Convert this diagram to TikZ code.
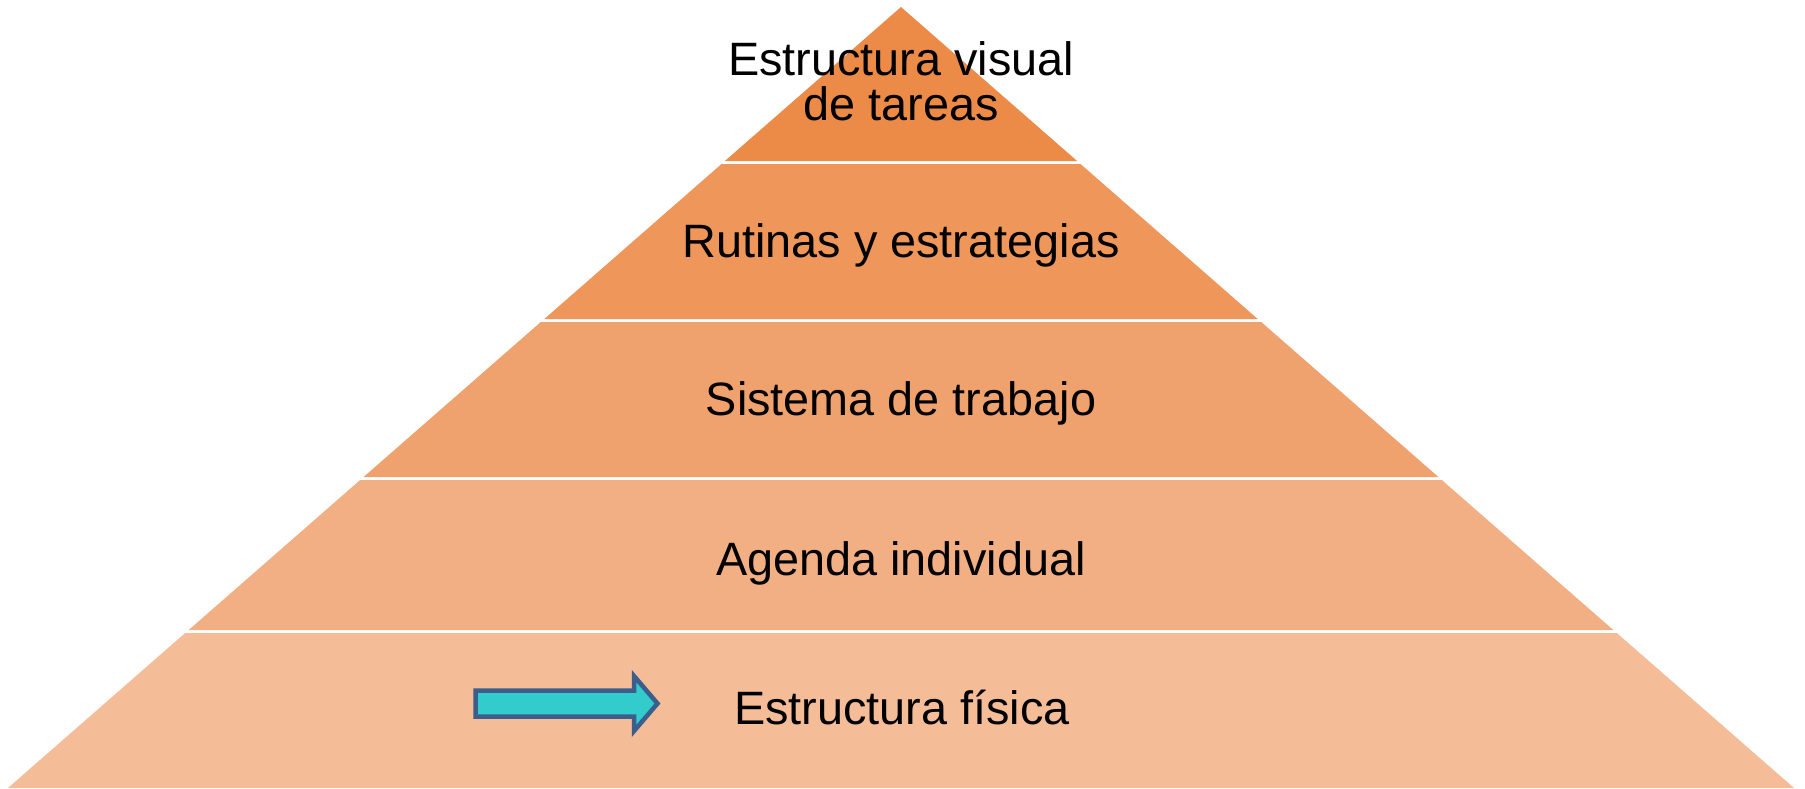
\documentclass[tikz,border=0pt]{standalone}
\usepackage{fontspec}
\setmainfont{Liberation Sans}
\definecolor{lay1}{HTML}{EC8A47}
\definecolor{lay2}{HTML}{EF965A}
\definecolor{lay3}{HTML}{EFA26E}
\definecolor{lay4}{HTML}{F2AF84}
\definecolor{lay5}{HTML}{F4BC97}
\definecolor{arrowfill}{HTML}{33CCCC}
\definecolor{arrowline}{HTML}{3B5E8C}
\tikzset{
  lbl/.style={anchor=base, inner sep=0pt, font=\fontsize{46.8}{46.8}\selectfont, text=black},
}
\begin{document}
\begin{tikzpicture}[x=1pt,y=-1pt]
\useasboundingbox[fill=white] (0,0) rectangle (1805,788);
\fill[lay1] (901,7) -- (1077.1,161) -- (724.9,161) -- cycle;
\fill[lay2] (721.5,164) -- (1080.5,164) -- (1257.7,319) -- (544.3,319) -- cycle;
\fill[lay3] (540.8,322) -- (1261.2,322) -- (1438.4,477) -- (363.6,477) -- cycle;
\fill[lay4] (360.2,480) -- (1441.8,480) -- (1613.3,630) -- (188.7,630) -- cycle;
\fill[lay5] (185.2,633) -- (1616.8,633) -- (1794,788) -- (8,788) -- cycle;
\node[lbl] (t1a) at (901,75) {Estructura visual};
\node[lbl] (t1b) at (901,120) {de tareas};
\node[lbl] (t2) at (901,257) {Rutinas y estrategias};
\node[lbl] (t3) at (901,415) {Sistema de trabajo};
\node[lbl] (t4) at (901,575) {Agenda individual};
\node[lbl] (t5) at (902,724) {Estructura física};
\draw[fill=arrowfill, draw=arrowline, line width=4.5pt, line join=miter]
  (475.5,690.5) -- (634,690.5) -- (634,676) -- (657.5,703.5) -- (634,731)
  -- (634,716.5) -- (475.5,716.5) -- cycle;
\end{tikzpicture}
\end{document}
